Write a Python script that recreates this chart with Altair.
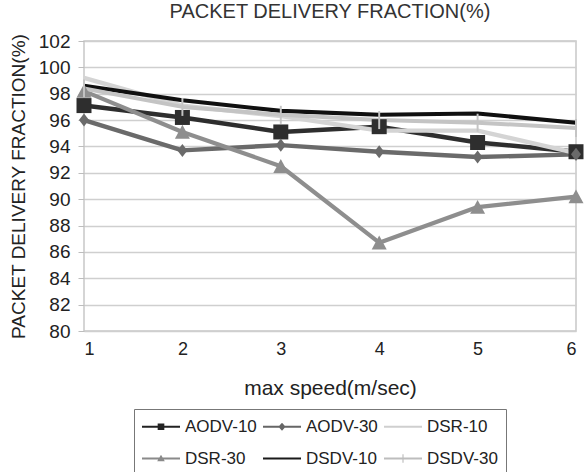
import altair as alt
import pandas as pd

speeds = [1, 2, 3, 4, 5, 6]
series_names = ["AODV-10", "AODV-30", "DSR-10", "DSR-30", "DSDV-10", "DSDV-30"]
aodv_10 = [97.1, 96.2, 95.1, 95.5, 94.3, 93.6]
aodv_30 = [96.0, 93.7, 94.1, 93.6, 93.2, 93.4]
dsr_10 = [99.2, 97.1, 96.3, 95.2, 95.2, 93.5]
dsr_30 = [98.2, 95.1, 92.5, 86.7, 89.4, 90.2]
dsdv_10 = [98.6, 97.5, 96.7, 96.4, 96.5, 95.8]
dsdv_30 = [98.4, 97.0, 96.4, 96.0, 95.8, 95.4]
y_ticks = list(range(80, 103, 2))

values = [aodv_10, aodv_30, dsr_10, dsr_30, dsdv_10, dsdv_30]
rows = []
for name, vals in zip(series_names, values):
    for s, v in zip(speeds, vals):
        rows.append({"speed": s, "pdf": v, "series": name})
df = pd.DataFrame(rows)

line_colors = ["#2e2e2e", "#6a6a6a", "#d4d4d4", "#8e8e8e", "#101010", "#c4c4c4"]
line_widths = [4.5, 4, 4, 4, 5, 6]
legend_colors = ["#222222", "#666666", "#cfcfcf", "#8a8a8a", "#1a1a1a", "#bdbdbd"]

marker_series = ["AODV-10", "AODV-30", "DSR-30", "DSDV-30"]
marker_colors = ["#2e2e2e", "#6a6a6a", "#8e8e8e", "#c4c4c4"]
marker_shapes = [
    "M-1,-1L1,-1L1,1L-1,1Z",
    "M0,-0.87L0.67,0L0,0.87L-0.67,0Z",
    "M0,-0.95L1,0.9L-1,0.9Z",
    "M-0.13,-1.2L0.13,-1.2L0.13,1.2L-0.13,1.2Z",
]

LINE = "M-1,-0.1L3,-0.1L3,0.1L-1,0.1Z"
legend_shapes = [
    LINE + "M0.65,-0.35L1.35,-0.35L1.35,0.35L0.65,0.35Z",
    LINE + "M1,-0.42L1.38,0L1,0.42L0.62,0Z",
    LINE,
    LINE + "M1,-0.4L1.4,0.3L0.6,0.3Z",
    LINE,
    LINE + "M0.94,-0.45L1.06,-0.45L1.06,0.45L0.94,0.45Z",
]

FONT = "Liberation Sans"

x_enc = alt.X(
    "speed:Q",
    scale=alt.Scale(domain=[1, 6], nice=False, zero=False),
    axis=alt.Axis(
        title="max speed(m/sec)",
        values=speeds,
        format="d",
        grid=False,
        ticks=False,
        domain=False,
        labelFontSize=18,
        labelPadding=9,
        labelOverlap=False,
        titleFontSize=21,
        titleX=246,
        titleY=57,
        titleBaseline="middle",
        titleAlign="center",
        titleFontWeight="normal",
    ),
)
y_enc = alt.Y(
    "pdf:Q",
    scale=alt.Scale(domain=[80, 102], nice=False, zero=False),
    axis=alt.Axis(
        title="PACKET DELIVERY FRACTION(%)",
        values=y_ticks,
        tickCount=12,
        grid=True,
        gridColor="#cfcfcf",
        gridWidth=1.5,
        ticks=True,
        tickSize=6,
        tickColor="#bdbdbd",
        domain=False,
        labelFontSize=19,
        labelPadding=8,
        labelOverlap=False,
        titleFontSize=19,
        titleX=-66,
        titleY=145,
        titleAngle=270,
        titleBaseline="middle",
        titleAlign="center",
        titleFontWeight="normal",
    ),
)

lines = alt.Chart(df).mark_line(strokeJoin="round").encode(
    x=x_enc,
    y=y_enc,
    color=alt.Color("series:N", scale=alt.Scale(domain=series_names, range=line_colors), legend=None),
    strokeWidth=alt.StrokeWidth("series:N", scale=alt.Scale(domain=series_names, range=line_widths), legend=None),
    detail="series:N",
)

points = alt.Chart(df).transform_filter(
    alt.FieldOneOfPredicate(field="series", oneOf=marker_series)
).mark_point(filled=True, opacity=1, size=225).encode(
    x=x_enc,
    y=y_enc,
    color=alt.Color("series:N", scale=alt.Scale(domain=marker_series, range=marker_colors), legend=None),
    shape=alt.Shape("series:N", scale=alt.Scale(domain=marker_series, range=marker_shapes), legend=None),
)

legend_props = dict(
    title=None,
    orient="none",
    legendX=50,
    legendY=368,
    columns=3,
    direction="horizontal",
    symbolSize=361,
    symbolStrokeWidth=0,
    symbolOpacity=1,
    labelFontSize=17,
    labelFont=FONT,
    labelColor="#222222",
    labelOffset=24,
    columnPadding=6,
    rowPadding=14,
    padding=8,
    strokeColor="#777777",
)

legend_layer = alt.Chart(df).mark_point(filled=True, opacity=0).encode(
    x=x_enc,
    y=y_enc,
    color=alt.Color(
        "series:N",
        scale=alt.Scale(domain=series_names, range=legend_colors),
        legend=alt.Legend(**legend_props),
    ),
    shape=alt.Shape(
        "series:N",
        scale=alt.Scale(domain=series_names, range=legend_shapes),
        legend=alt.Legend(**legend_props),
    ),
)

chart = alt.layer(lines, points, legend_layer).resolve_scale(
    color="independent", shape="independent"
).properties(
    width=492,
    height=290,
    title=alt.TitleParams(
        "PACKET DELIVERY FRACTION(%)",
        fontSize=20,
        font=FONT,
        fontWeight="normal",
        color="#333333",
        offset=10,
    ),
    autosize=alt.AutoSizeParams(type="none"),
    padding={"left": 84, "top": 41, "right": 11, "bottom": 141},
).configure(
    font=FONT,
).configure_view(
    stroke="#c8c8c8",
    strokeWidth=1.5,
).configure_axis(
    labelFont=FONT,
    titleFont=FONT,
    labelColor="#222222",
    titleColor="#222222",
)

chart.save("out.html", embed_options={"renderer": "svg", "actions": False})
